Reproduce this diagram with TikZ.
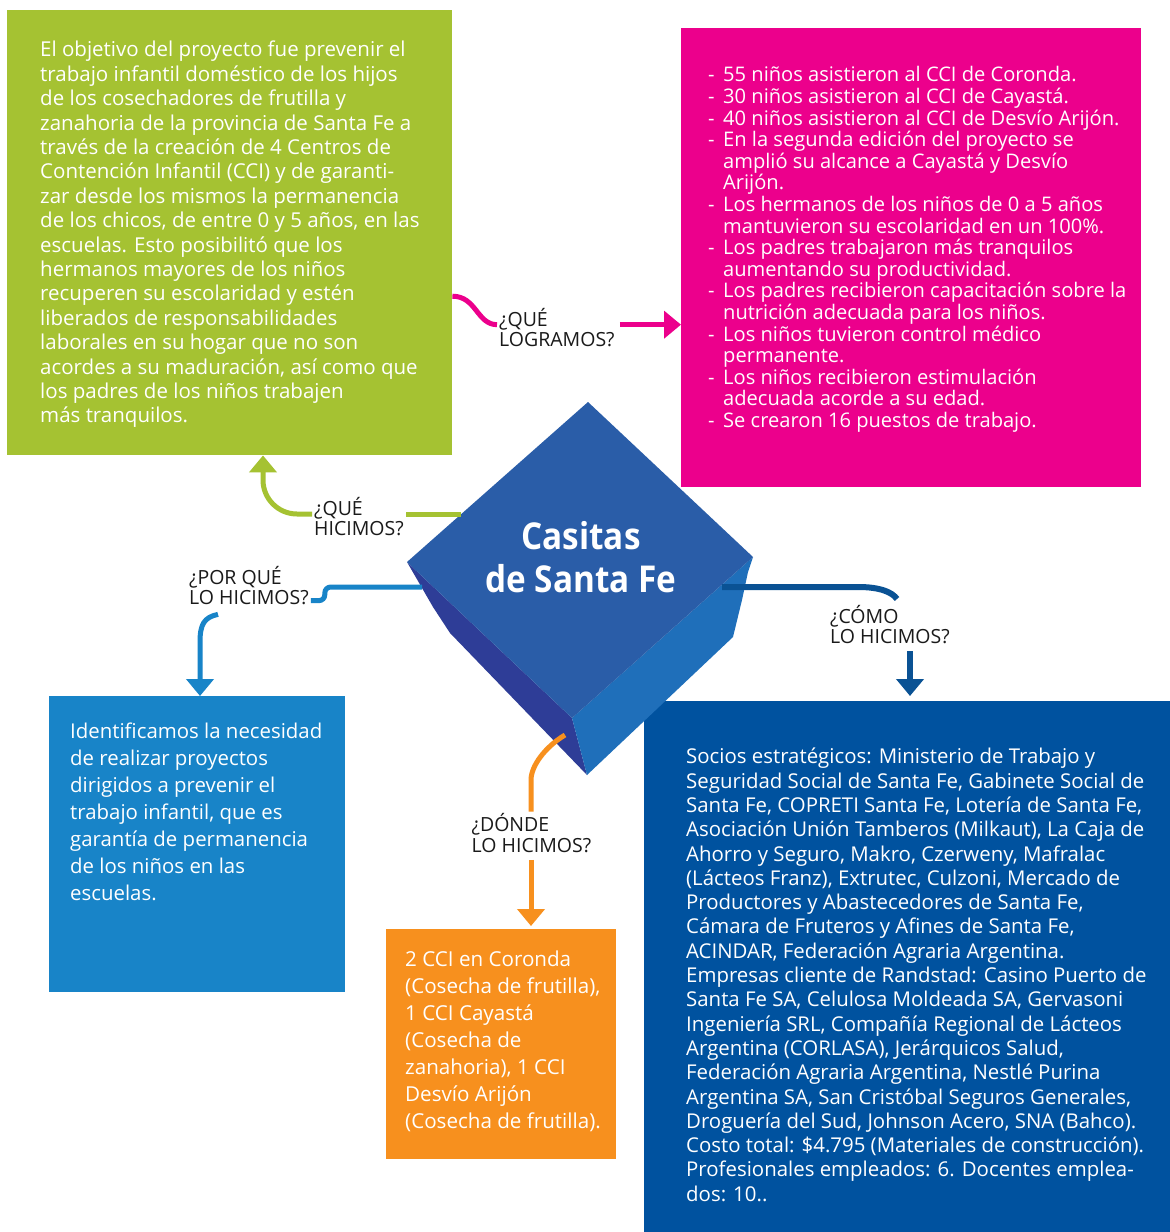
\documentclass[tikz,border=0pt]{standalone}
\usepackage{fontspec}
\setmainfont{Open Sans}
\newfontfamily\lblfont{Open Sans}
\newfontfamily\ttlfont[FakeStretch=0.9]{Open Sans}
\usetikzlibrary{arrows.meta,calc}

\definecolor{cGreen}{HTML}{A5C232}
\definecolor{cPink}{HTML}{EC008C}
\definecolor{cSky}{HTML}{1884C8}
\definecolor{cOrange}{HTML}{F7901E}
\definecolor{cNavy}{HTML}{00529F}
\definecolor{cNavyLine}{HTML}{0A5294}
\definecolor{cubeTop}{HTML}{2A5DA8}
\definecolor{cubeLeft}{HTML}{2E3D97}
\definecolor{cubeRight}{HTML}{1F6FBA}
\definecolor{ink}{HTML}{1A1A1A}

\newcommand{\pkbul}{\makebox[15pt][l]{-}}
\newcommand{\pkcont}{\hspace*{15pt}}

\tikzset{
  panel/.style={anchor=north west, inner sep=0pt, draw=none},
  body/.style={anchor=north west, inner sep=0pt, align=left, text=white},
  question/.style={anchor=north west, inner sep=2pt, align=left, text=ink,
    font={\lblfont\fontsize{19.5}{20.5}\selectfont\lineskiplimit=-30pt}},
  link/.style={line width=5pt, draw=#1},
  arrowtip/.style={-{Triangle[width=27pt,length=17pt]}}
}

\begin{document}
\begin{tikzpicture}[x=1pt,y=-1pt]
\useasboundingbox (0,0) rectangle (1170,1232);
\fill[white] (0,0) rectangle (1170,1232);

% coloured panels
\node[panel, fill=cGreen,  minimum width=445pt, minimum height=445pt] (green)  at (7,10) {};
\node[panel, fill=cPink,   minimum width=460pt, minimum height=459pt] (pink)   at (681,28) {};
\node[panel, fill=cSky,    minimum width=296pt, minimum height=296pt] (sky)    at (49,696) {};
\node[panel, fill=cOrange, minimum width=230pt, minimum height=230pt] (orange) at (386,929) {};
\node[panel, fill=cNavy,   minimum width=526pt, minimum height=531pt] (navy)   at (644,701) {};

% panel texts
\node[body, font={\fontsize{20.5}{24.4}\selectfont\lineskiplimit=-30pt}] (greentext) at (40,41) {%
El objetivo del proyecto fue prevenir el\\
trabajo infantil doméstico de los hijos\\
de los cosechadores de frutilla y\\
zanahoria de la provincia de Santa Fe a\\
través de la creación de 4 Centros de\\
Contención Infantil (CCI) y de garanti-\\
zar desde los mismos la permanencia\\
de los chicos, de entre 0 y 5 años, en las\\
escuelas. Esto posibilitó que los\\
hermanos mayores de los niños\\
recuperen su escolaridad y estén\\
liberados de responsabilidades\\
laborales en su hogar que no son\\
acordes a su maduración, así como que\\
los padres de los niños trabajen\\
más tranquilos.};

\node[body, font={\fontsize{20.1}{21.6}\selectfont\lineskiplimit=-30pt}] (pinktext) at (708,66.5) {%
\pkbul 55 niños asistieron al CCI de Coronda.\\
\pkbul 30 niños asistieron al CCI de Cayastá.\\
\pkbul 40 niños asistieron al CCI de Desvío Arijón.\\
\pkbul En la segunda edición del proyecto se\\
\pkcont amplió su alcance a Cayastá y Desvío\\
\pkcont Arijón.\\
\pkbul Los hermanos de los niños de 0 a 5 años\\
\pkcont mantuvieron su escolaridad en un 100\%.\\
\pkbul Los padres trabajaron más tranquilos\\
\pkcont aumentando su productividad.\\
\pkbul Los padres recibieron capacitación sobre la\\
\pkcont nutrición adecuada para los niños.\\
\pkbul Los niños tuvieron control médico\\
\pkcont permanente.\\
\pkbul Los niños recibieron estimulación\\
\pkcont adecuada acorde a su edad.\\
\pkbul Se crearon 16 puestos de trabajo.};

\node[body, font={\fontsize{20.4}{27}\selectfont\lineskiplimit=-30pt}] (skytext) at (70,722.5) {%
Identificamos la necesidad\\
de realizar proyectos\\
dirigidos a prevenir el\\
trabajo infantil, que es\\
garantía de permanencia\\
de los niños en las\\
escuelas.};

\node[body, font={\fontsize{20.6}{27}\selectfont\lineskiplimit=-30pt}] (orangetext) at (405,951) {%
2 CCI en Coronda\\
(Cosecha de frutilla),\\
1 CCI Cayastá\\
(Cosecha de\\
zanahoria), 1 CCI\\
Desvío Arijón\\
(Cosecha de frutilla).};

\node[body, font={\fontsize{20.4}{24.3}\selectfont\lineskiplimit=-30pt}] (navytext) at (686,748) {%
Socios estratégicos: Ministerio de Trabajo y\\
Seguridad Social de Santa Fe, Gabinete Social de\\
Santa Fe, COPRETI Santa Fe, Lotería de Santa Fe,\\
Asociación Unión Tamberos (Milkaut), La Caja de\\
Ahorro y Seguro, Makro, Czerweny, Mafralac\\
(Lácteos Franz), Extrutec, Culzoni, Mercado de\\
Productores y Abastecedores de Santa Fe,\\
Cámara de Fruteros y Afines de Santa Fe,\\
ACINDAR, Federación Agraria Argentina.\\
Empresas cliente de Randstad: Casino Puerto de\\
Santa Fe SA, Celulosa Moldeada SA, Gervasoni\\
Ingeniería SRL, Compañía Regional de Lácteos\\
Argentina (CORLASA), Jerárquicos Salud,\\
Federación Agraria Argentina, Nestlé Purina\\
Argentina SA, San Cristóbal Seguros Generales,\\
Droguería del Sud, Johnson Acero, SNA (Bahco).\\
Costo total: \$4.795 (Materiales de construcción).\\
Profesionales empleados: 6. Docentes emplea-\\
dos: 10..};

% the central block
\fill[cubeLeft]  (407,562) -- (572,718) -- (587,775) -- (450,633) -- (433,607) -- cycle;
\fill[cubeRight] (572,718) -- (753,557) -- (748,572) -- (742,600) -- (733,637) -- (587,775) -- cycle;
\fill[cubeTop]   (588,402) -- (753,557) -- (572,718) -- (407,562) -- cycle;
\node[anchor=north, inner sep=0pt, align=center, text=white,
      font={\ttlfont\bfseries\fontsize{37}{43}\selectfont\lineskiplimit=-30pt}] (title) at (581,521)
  {Casitas\\de Santa Fe};

% attachment points on the block edges and arrow tips on the panels
\coordinate (cG) at (461,514);
\coordinate (cB) at (422,587);
\coordinate (cN) at (722,587);
\coordinate (cO) at (565,735);
\coordinate (nTip) at ($(navy.north west)+(266,-5)$);
\coordinate (oTip) at ($(orange.north west)+(145,-3)$);

% question labels
\node[question] (lblG) at (312,495) {¿QUÉ\\HICIMOS?};
\node[question] (lblP) at (187,564) {¿POR QUÉ\\LO HICIMOS?};
\node[question] (lblL) at (497,306) {¿QUÉ\\LOGRAMOS?};
\node[question] (lblC) at (828,603) {¿CÓMO\\LO HICIMOS?};
\node[question] (lblD) at (469.5,811.5) {¿DÓNDE\\LO HICIMOS?};

% what we did
\draw[link=cGreen] (cG) -- (cG -| lblG.east);
\draw[link=cGreen, arrowtip, rounded corners=34pt]
  (cG -| lblG.west) -| ([xshift=256pt]green.south west);

% why we did it
\draw[link=cSky, rounded corners=6pt]
  (cB) -| ($(lblP.east)+(14,15)$) -- ($(lblP.east)+(0,15)$);
\draw[link=cSky, arrowtip]
  ($(lblP.south west)+(31,7)$) .. controls +(-14,3) and +(0,-18) .. ++(-18,28)
  -- ([xshift=151pt]sky.north west);

% what we achieved
\draw[link=cPink]
  ($(green.east)+(0,63.5)$) .. controls +(24,0) and +(-20,0) .. ($(lblL.west)+(0,-3)$);
\draw[link=cPink, arrowtip]
  ($(lblL.east)+(3,-3)$) -- ($(lblL.east -| pink.west)+(0,-3)$);

% how we did it
\draw[link=cNavyLine, line width=6pt]
  (cN) -- ++(136,0) .. controls +(22,0) and +(-5,-7) .. ++(39,12);
\draw[link=cNavyLine, line width=6pt, arrowtip]
  ($(lblC.south -| nTip)+(0,5)$) -- (nTip);

% where we did it
\draw[link=cOrange]
  (cO) .. controls +(-20,12) and +(0,-14) .. ++(-34,45) -- (lblD.north -| oTip);
\draw[link=cOrange, arrowtip]
  ($(lblD.south -| oTip)+(0,5)$) -- (oTip);
\end{tikzpicture}
\end{document}
